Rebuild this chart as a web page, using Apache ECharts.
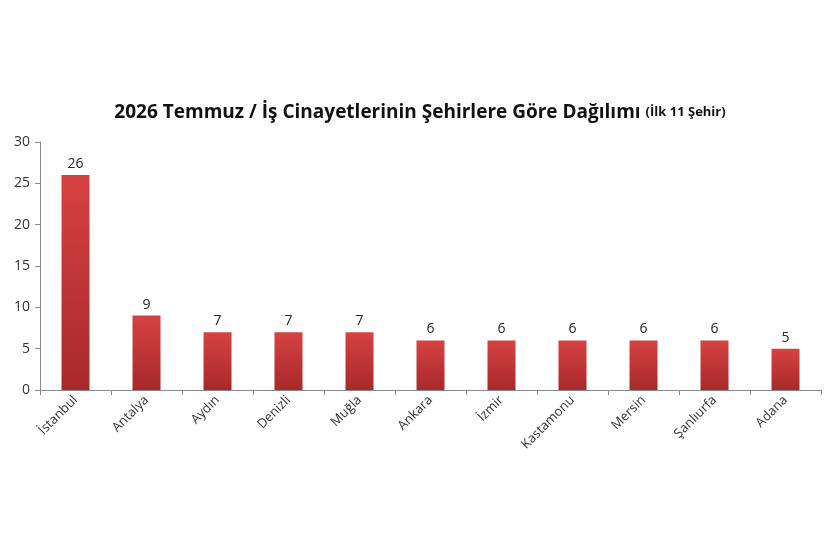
<!DOCTYPE html>
<html><head><meta charset="utf-8">
<script src="https://cdn.jsdelivr.net/npm/echarts@6/dist/echarts.min.js"></script>
<style>html,body{margin:0;padding:0;background:#fff}#c{width:840px;height:559px}</style>
</head><body><div id="c"></div>
<script>
const cities = ['İstanbul','Antalya','Aydın','Denizli','Muğla','Ankara','İzmir','Kastamonu','Mersin','Şanlıurfa','Adana'];
const values = [26,9,7,7,7,6,6,6,6,6,5];
const yTicks = [0,5,10,15,20,25,30];
const chart = echarts.init(document.getElementById('c'));
const F = 'Open Sans, Liberation Sans, sans-serif';
chart.setOption({
  animation:false,
  title:{text:'{a|2026 Temmuz / İş Cinayetlerinin Şehirlere Göre Dağılımı} {b|(İlk 11 Şehir)}',
    left:'center', top:98,
    textStyle:{rich:{a:{fontFamily:F,fontSize:19,fontWeight:'bold',color:'#111'},b:{fontFamily:F,fontSize:13,fontWeight:'bold',color:'#111'}}}},
  grid:{left:40,right:19,top:142,bottom:169,containLabel:false},
  xAxis:{type:'category',data:cities,
    axisLine:{lineStyle:{color:'#888'}},axisTick:{show:true,lineStyle:{color:'#888'}},
    axisLabel:{rotate:45,interval:0,color:'#333',fontFamily:F,fontSize:13,margin:8}},
  yAxis:{type:'value',min:yTicks[0],max:yTicks[yTicks.length-1],interval:5,
    splitLine:{show:false},axisLine:{show:true,lineStyle:{color:'#888'}},axisTick:{show:true,lineStyle:{color:'#888'}},
    axisLabel:{color:'#333',fontFamily:F,fontSize:14,margin:10}},
  series:[{type:'bar',data:values,barWidth:28,
    itemStyle:{color:new echarts.graphic.LinearGradient(0,0,0,1,[{offset:0,color:'#d64242'},{offset:1,color:'#a8292b'}])},
    label:{show:true,position:'top',color:'#222',fontFamily:F,fontSize:14,distance:4}}]
});
</script></body></html>
